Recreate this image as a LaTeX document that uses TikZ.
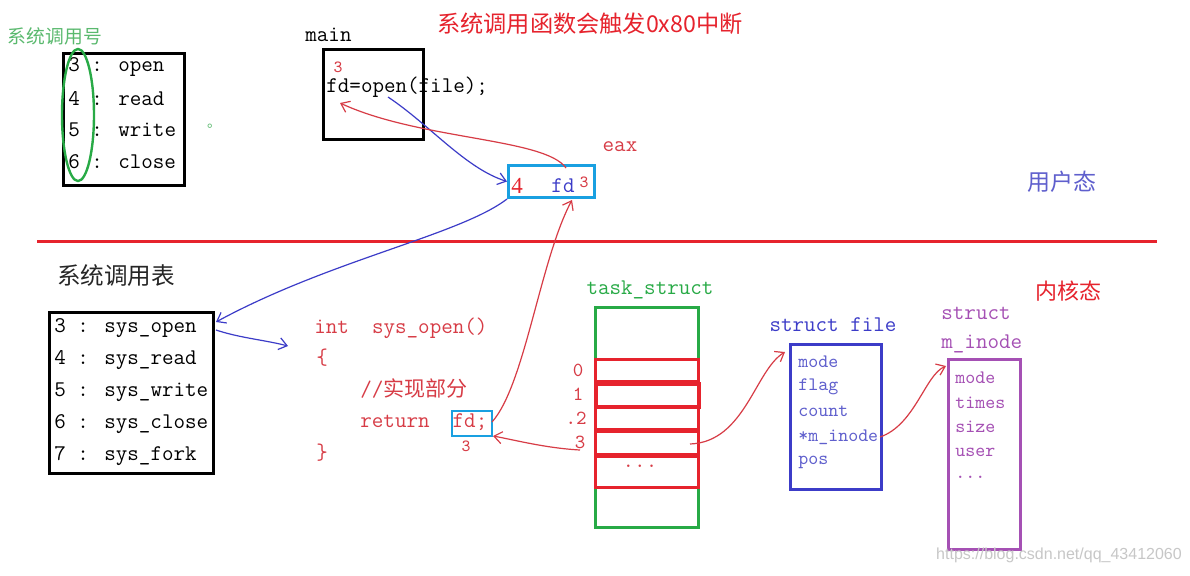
\documentclass[tikz,border=0pt]{standalone}
\usepackage{fontspec}
\setmainfont{Liberation Serif}
\newfontfamily\cjk{Noto Sans CJK SC}
\newfontfamily\wmfont{Liberation Sans}
\usetikzlibrary{arrows.meta,shapes.geometric}
\definecolor{tgreen}{RGB}{40,170,70}
\definecolor{lgreen}{RGB}{90,185,110}
\definecolor{tred}{RGB}{230,35,45}
\definecolor{txtred}{RGB}{215,60,70}
\definecolor{tblue}{RGB}{60,60,200}
\definecolor{lblue}{RGB}{95,95,205}
\definecolor{tcyan}{RGB}{25,160,225}
\definecolor{tpurple}{RGB}{165,80,180}
\tikzset{
  txt/.style={inner sep=0pt, anchor=west},
  mono/.style={font=\ttfamily\fontsize{11.2}{13}\selectfont},
  smallmono/.style={font=\ttfamily\fontsize{9.5}{11}\selectfont},
  tiny3/.style={inner sep=0pt, text=txtred, font=\ttfamily\fontsize{8.5}{10}\selectfont},
  box/.style={draw, line width=1.5pt, inner sep=0pt, anchor=north west},
  redcon/.style={draw=txtred, line width=0.6pt, -{Straight Barb[length=4pt,width=6pt]}},
  bluecon/.style={draw=tblue, line width=0.6pt, -{Straight Barb[length=4pt,width=6pt]}},
}
\begin{document}
\begin{tikzpicture}[x=0.5pt, y=-0.5pt]
\useasboundingbox (0,0) rectangle (1190,575);
\fill[white] (0,0) rectangle (1190,575);

% ---------- user space ----------
\node (numtitle) [inner sep=0pt, text=lgreen, font=\cjk\fontsize{9.4}{11}\selectfont] at (55,36) {系统调用号};
\node (numbox) [box, minimum width=60.5pt, minimum height=66pt] at (62,52) {};
\foreach \t [count=\i] in {3 : open, 4 : read, 5 : write, 6 : close}
  \node (num\i) [txt, mono] at (68, 67+31.5*\i-31.5) {\t};
\node (ell) [ellipse, draw=tgreen, line width=1.2pt, minimum width=16pt, minimum height=66pt, inner sep=0pt] at (78,115) {};
\node (dot) [inner sep=0pt, text=lgreen, font=\cjk\fontsize{7}{8}\selectfont] at (214,126) {。};

\node (maintitle) [txt, mono] at (305,35) {main};
\node (mainbox) [box, minimum width=50pt, minimum height=45pt] at (322,48) {};
\node (main3) [tiny3] at (338,67) {3};
\node (fdopen) [txt, mono] at (326,87) {fd=open(file);};
\node (title) [inner sep=0pt, text=tred, font=\cjk\fontsize{11.6}{13}\selectfont] at (590,24) {系统调用函数会触发0x80中断};

\node (eaxlbl) [inner sep=0pt, text=txtred, mono] at (620,147) {eax};
\node (eaxbox) [box, draw=tcyan, minimum width=43pt, minimum height=16pt] at (507,164) {};
\node (eax4) [inner sep=0pt, text=tred, font=\fontsize{11.5}{13}\selectfont] at (517,186) {4};
\node (eaxfd) [inner sep=0pt, text=tblue, mono] at (563,186) {fd};
\node (eax3) [tiny3] at (584,182) {3};

\node (user) [inner sep=0pt, text=lblue, font=\cjk\fontsize{11.5}{13}\selectfont] at (1062,182) {用户态};

\draw[tred, line width=1.5pt] (37,241) -- (1157,241);

% ---------- kernel space ----------
\node (tabtitle) [inner sep=0pt, text=black!85, font=\cjk\fontsize{11.8}{14}\selectfont] at (116,276) {系统调用表};
\node (tabbox) [box, minimum width=82pt, minimum height=80.5pt] at (48,311) {};
\foreach \t [count=\i] in {3 : sys\_open, 4 : sys\_read, 5 : sys\_write, 6 : sys\_close, 7 : sys\_fork}
  \node (tab\i) [txt, mono] at (54, 328+32*\i-32) {\t};

\node (fint) [txt, mono, text=txtred] at (314,328) {int\ \ sys\_open()};
\node (fob) [txt, mono, text=txtred] at (316,358) {\{};
\node (fcom) [txt, text=txtred, font=\fontsize{11.2}{13}\selectfont] at (360,389) {{\ttfamily//}{\cjk\fontsize{10.5}{12}\selectfont 实现部分}};
\node (fret) [txt, mono, text=txtred] at (360,422) {return\ \ fd;};
\node (fcb) [txt, mono, text=txtred] at (316,453) {\}};
\node (fdbox) [box, draw=tcyan, line width=1.2pt, minimum width=20pt, minimum height=12.5pt] at (451,410) {};
\node (fd3) [tiny3] at (466,446) {3};

\node (tasktitle) [inner sep=0pt, text=tgreen, mono] at (650,290) {task\_struct};
\node (taskbox) [box, draw=tgreen, minimum width=51.5pt, minimum height=110pt] at (594,306) {};
\node (c0) [box, draw=tred, minimum width=51.5pt, minimum height=11pt] at (594,358) {};
\node (c1) [box, draw=tred, line width=2.2pt, minimum width=51.5pt, minimum height=11.5pt] at (594,382) {};
\node (c2) [box, draw=tred, minimum width=51.5pt, minimum height=11pt] at (594,406) {};
\node (c3) [box, draw=tred, minimum width=51.5pt, minimum height=11.5pt] at (594,430) {};
\node (c4) [box, draw=tred, minimum width=51.5pt, minimum height=15.5pt] at (594,455) {};
\node (l0) [inner sep=0pt, text=txtred, font=\ttfamily\fontsize{10}{11}\selectfont] at (578,370) {0};
\node (l1) [inner sep=0pt, text=txtred, font=\ttfamily\fontsize{10}{11}\selectfont] at (578,394) {1};
\node (l2) [inner sep=0pt, text=txtred, font=\ttfamily\fontsize{10}{11}\selectfont] at (576,418) {.2};
\node (l3) [inner sep=0pt, text=txtred, font=\ttfamily\fontsize{10}{11}\selectfont] at (580,442) {3};
\node (cdots) [inner sep=0pt, text=txtred, mono] at (640,466) {.{}.{}.};

\node (filetitle) [inner sep=0pt, text=tblue, mono] at (833,325) {struct file};
\node (filebox) [box, draw=tblue, minimum width=45.5pt, minimum height=72.5pt] at (789,343) {};
\foreach \t/\y [count=\i] in {mode/362, flag/387, count/411, *m\_inode/437, pos/462}
  \node (f\i) [txt, smallmono, text=lblue] at (798,\y) {\t};

\node (kernel) [inner sep=0pt, text=tred, font=\cjk\fontsize{11}{13}\selectfont] at (1068,291) {内核态};

\node (inodet1) [txt, mono, text=tpurple] at (941,313) {struct};
\node (inodet2) [txt, mono, text=tpurple] at (941,344) {m\_inode};
\node (inodebox) [box, draw=tpurple, minimum width=36pt, minimum height=95pt] at (947,358) {};
\foreach \t/\y [count=\i] in {mode/378, times/403, size/427, user/452}
  \node (i\i) [txt, smallmono, text=tpurple] at (955,\y) {\t};
\node (i5) [txt, smallmono, text=tpurple] at (955,477) {.{}.{}.};

\node (wm) [inner sep=0pt, text=black!22, font=\wmfont\fontsize{8}{10}\selectfont] at (1059,555) {https://blog.csdn.net/qq\_43412060};

% ---------- connectors ----------
\coordinate (openpt) at (388,97);
\coordinate (mainfd) at (340,103);
\coordinate (eaxtop) at (566,168);
\coordinate (eaxbot) at (572,200);
\coordinate (tabin) at (216,322);
\coordinate (tabout) at (216,330);
\coordinate (fintin) at (288,346);
\coordinate (fdout) at (492,422);
\coordinate (fdin) at (493,436);
\coordinate (c3l) at (580,450);
\coordinate (c3r) at (690,444);
\coordinate (filein) at (785,352);
\coordinate (minodeout) at (880,437);
\coordinate (inodein) at (946,366);

\draw[bluecon] (openpt) .. controls (430,125) and (465,168) .. (eaxbox.west);
\draw[redcon] (eaxtop) .. controls (545,138) and (420,140) .. (mainfd);
\draw[bluecon] (eaxbox.south west) .. controls (460,235) and (330,260) .. (tabin);
\draw[bluecon] (tabout) .. controls (240,338) and (265,340) .. (fintin);
\draw[redcon] (fdout) .. controls (525,385) and (540,260) .. (eaxbot);
\draw[redcon] (c3l) .. controls (545,448) and (515,440) .. (fdin);
\draw[redcon] (c3r) .. controls (745,442) and (755,370) .. (filein);
\draw[redcon] (minodeout) .. controls (915,425) and (925,375) .. (inodein);
\end{tikzpicture}
\end{document}
